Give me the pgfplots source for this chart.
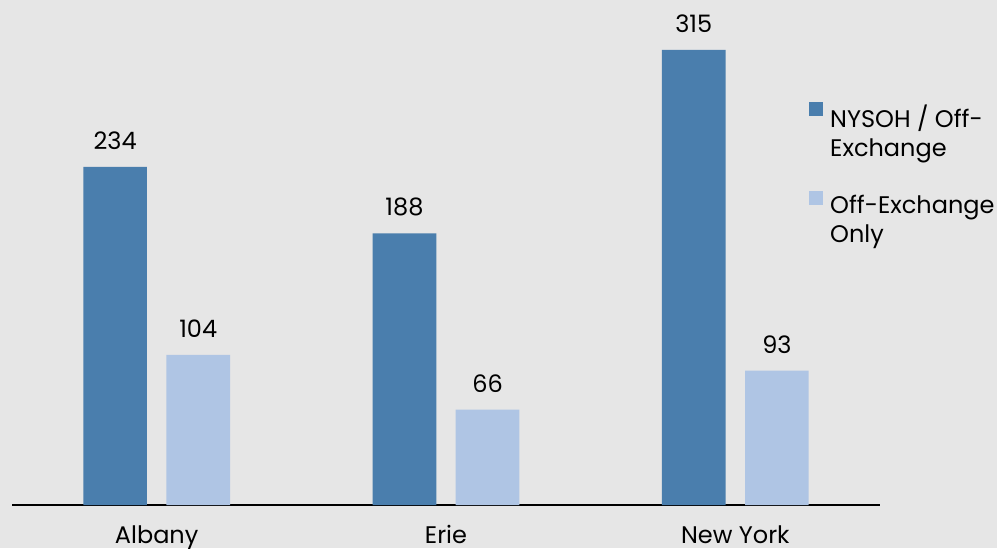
\documentclass[border=0pt]{standalone}
\usepackage{fontspec}
\setmainfont{Poppins}
\usepackage{pgfplots}
\pgfplotsset{compat=1.18}
\definecolor{bg}{HTML}{E6E6E6}
\definecolor{darkb}{HTML}{4A7EAD}
\definecolor{lightb}{HTML}{AFC5E4}
\begin{document}
\fontsize{12}{14.5}\selectfont
\begin{tikzpicture}[x=1pt,y=1pt]
\fill[bg] (0,0) rectangle (498.5,274);
\useasboundingbox (0,0) rectangle (498.5,274);
\begin{axis}[
  at={(6pt,21.5pt)}, anchor=south west,
  scale only axis, width=434pt, height=252.8pt,
  xmin=-0.5, xmax=2.5, ymin=0, ymax=350,
  axis x line*=bottom, hide y axis,
  x axis line style={black, line width=1pt},
  xtick={0,1,2}, xticklabels={Albany,Erie,New York},
  major tick length=0pt,
  xticklabel style={font=\fontsize{12}{14.5}\selectfont, yshift=-6pt},
  ybar, bar width=0.22,
  /pgf/number format/assume math mode=true,
  nodes near coords,
  nodes near coords style={font=\fontsize{12}{14.5}\selectfont, black, anchor=south, inner sep=0pt, yshift=8.5pt},
  legend image code/.code={\fill[#1] (0pt,0.75pt) rectangle (7pt,7.75pt);},
  legend cell align=left,
  legend style={at={(axis description cs:0.918,0.797)}, anchor=north west,
    draw=none, fill=none, inner sep=0pt, row sep=30pt, column sep=3.5pt,
    nodes={inner sep=0pt}, font=\fontsize{12}{14.5}\selectfont},
]
\addplot[fill=darkb, draw=none, bar shift=-0.1436] coordinates {(0,234) (1,188) (2,315)};
\addlegendentry{\parbox[t]{95pt}{NYSOH / Off-\\Exchange}}
\addplot[fill=lightb, draw=none, bar shift=0.1436] coordinates {(0,104) (1,66) (2,93)};
\addlegendentry{\parbox[t]{95pt}{Off-Exchange\\Only}}
\end{axis}
\end{tikzpicture}
\end{document}
